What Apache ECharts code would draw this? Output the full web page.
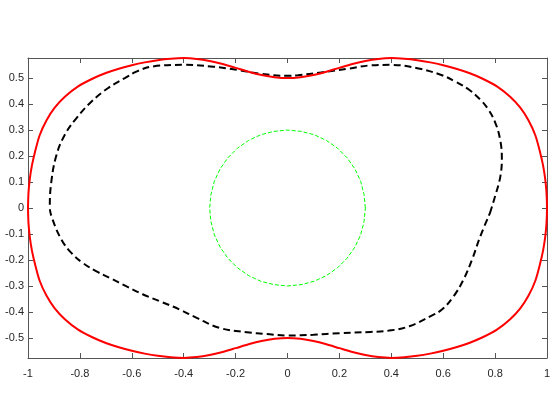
<!DOCTYPE html>
<html>
<head>
<meta charset="utf-8">
<script src="https://cdn.jsdelivr.net/npm/echarts@6/dist/echarts.min.js"></script>
<style>
  html, body { margin: 0; padding: 0; background: #fff; }
  #chart { width: 556px; height: 417px; }
</style>
</head>
<body>
<div id="chart"></div>
<script>
// tick labels
const xTicks = [-1, -0.8, -0.6, -0.4, -0.2, 0, 0.2, 0.4, 0.6, 0.8, 1]
const yTicks = [-0.5, -0.4, -0.3, -0.2, -0.1, 0, 0.1, 0.2, 0.3, 0.4, 0.5]
const yLimit = 0.5774

// red solid outer curve: upper edge left to right, then lower edge back
const redX = [-1, -0.998, -0.993, -0.985, -0.974, -0.955, -0.929, -0.897, -0.858, -0.807, -0.75, -0.7, -0.65,
  -0.6, -0.55, -0.5, -0.45, -0.4, -0.35, -0.3, -0.25, -0.2, -0.15, -0.1, -0.05, 0,
  0.05, 0.1, 0.15, 0.2, 0.25, 0.3, 0.35, 0.4, 0.45, 0.5, 0.55, 0.6,
  0.65, 0.7, 0.75, 0.807, 0.858, 0.897, 0.929, 0.955, 0.974, 0.985, 0.993, 0.998, 1,
  0.998, 0.993, 0.985, 0.974, 0.955, 0.929, 0.897, 0.858, 0.807, 0.75, 0.7, 0.65,
  0.6, 0.55, 0.5, 0.45, 0.4, 0.35, 0.3, 0.25, 0.2, 0.15, 0.1, 0.05, 0,
  -0.05, -0.1, -0.15, -0.2, -0.25, -0.3, -0.35, -0.4, -0.45, -0.5, -0.55, -0.6,
  -0.65, -0.7, -0.75, -0.807, -0.858, -0.897, -0.929, -0.955, -0.974, -0.985, -0.993, -0.998, -1]
const redY = [0, 0.06, 0.112, 0.163, 0.212, 0.28, 0.337, 0.386, 0.428, 0.468, 0.4985, 0.5195, 0.536,
  0.5495, 0.5605, 0.569, 0.5745, 0.577, 0.574, 0.566, 0.554, 0.5395, 0.5245, 0.512, 0.5035, 0.5,
  0.5035, 0.512, 0.5245, 0.5395, 0.554, 0.566, 0.574, 0.577, 0.5745, 0.569, 0.5605, 0.5495,
  0.536, 0.5195, 0.4985, 0.468, 0.428, 0.386, 0.337, 0.28, 0.212, 0.163, 0.112, 0.06, 0,
  -0.06, -0.112, -0.163, -0.212, -0.28, -0.337, -0.386, -0.428, -0.468, -0.4985, -0.5195, -0.536,
  -0.5495, -0.5605, -0.569, -0.5745, -0.577, -0.574, -0.566, -0.554, -0.5395, -0.5245, -0.512, -0.5035, -0.5,
  -0.5035, -0.512, -0.5245, -0.5395, -0.554, -0.566, -0.574, -0.577, -0.5745, -0.569, -0.5605, -0.5495,
  -0.536, -0.5195, -0.4985, -0.468, -0.428, -0.386, -0.337, -0.28, -0.212, -0.163, -0.112, -0.06, 0]

// black dashed curve
const blackX = [0.78, 0.8, 0.82, 0.826, 0.82, 0.8, 0.77, 0.743, 0.7, 0.65, 0.59, 0.5, 0.4, 0.32, 0.24,
  0.13, 0.04, 0, -0.106, -0.196, -0.286, -0.4, -0.518, -0.58, -0.627, -0.691, -0.755, -0.813, -0.858, -0.89,
  -0.91, -0.916, -0.905, -0.871, -0.833, -0.788, -0.736, -0.685, -0.62, -0.556, -0.492, -0.415, -0.35,
  -0.26, -0.157, -0.08, 0, 0.1, 0.2, 0.32, 0.4, 0.47, 0.55, 0.595, 0.64, 0.678, 0.711, 0.743, 0.78]
const blackY = [-0.02, 0.045, 0.12, 0.19, 0.26, 0.33, 0.385, 0.417, 0.455, 0.485, 0.513, 0.538, 0.551, 0.549, 0.537,
  0.522, 0.511, 0.509, 0.517, 0.532, 0.544, 0.551, 0.545, 0.526, 0.5, 0.462, 0.41, 0.346, 0.282, 0.205,
  0.102, 0.005, -0.045, -0.122, -0.173, -0.212, -0.244, -0.269, -0.302, -0.333, -0.359, -0.391, -0.423,
  -0.462, -0.478, -0.485, -0.491, -0.488, -0.482, -0.477, -0.471, -0.455, -0.417, -0.391, -0.34, -0.276, -0.199, -0.109, -0.02]

// green dashed circle, radius 0.3
const greenX = [0.3, 0.295, 0.282, 0.26, 0.23, 0.193, 0.15, 0.103, 0.052, 0, -0.052, -0.103, -0.15, -0.193,
  -0.23, -0.26, -0.282, -0.295, -0.3, -0.295, -0.282, -0.26, -0.23, -0.193, -0.15, -0.103, -0.052, 0,
  0.052, 0.103, 0.15, 0.193, 0.23, 0.26, 0.282, 0.295, 0.3]
const greenY = [0, 0.052, 0.103, 0.15, 0.193, 0.23, 0.26, 0.282, 0.295, 0.3, 0.295, 0.282, 0.26, 0.23,
  0.193, 0.15, 0.103, 0.052, 0, -0.052, -0.103, -0.15, -0.193, -0.23, -0.26, -0.282, -0.295, -0.3,
  -0.295, -0.282, -0.26, -0.23, -0.193, -0.15, -0.103, -0.052, 0]

const zip = (xs, ys) => xs.map((x, i) => [x, ys[i]])

const axisColor = '#555'
const textStyle = { color: '#262626', fontSize: 11, fontFamily: 'Liberation Sans, Arial, sans-serif' }

function xAxisOf(position, showLabel) {
  return {
    type: 'value',
    position: position,
    min: -1,
    max: 1,
    axisLine: { show: true, onZero: false, lineStyle: { color: axisColor, width: 1 } },
    axisTick: { show: true, inside: true, length: 5, customValues: xTicks, lineStyle: { color: axisColor } },
    axisLabel: { show: showLabel, customValues: xTicks, margin: 10, ...textStyle },
    splitLine: { show: false },
  }
}

function yAxisOf(position, showLabel) {
  return {
    type: 'value',
    position: position,
    min: -yLimit,
    max: yLimit,
    axisLine: { show: true, onZero: false, lineStyle: { color: axisColor, width: 1 } },
    axisTick: { show: true, inside: true, length: 5, customValues: yTicks, lineStyle: { color: axisColor } },
    axisLabel: { show: showLabel, customValues: yTicks, margin: 4, ...textStyle },
    splitLine: { show: false },
  }
}

const chart = echarts.init(document.getElementById('chart'))
chart.setOption({
  animation: false,
  backgroundColor: '#fff',
  grid: { left: 28, right: 9, top: 58, bottom: 59 },
  xAxis: [xAxisOf('bottom', true), xAxisOf('top', false)],
  yAxis: [yAxisOf('left', true), yAxisOf('right', false)],
  series: [
    {
      type: 'line',
      data: zip(greenX, greenY),
      showSymbol: false,
      lineStyle: { color: '#00ff00', width: 1, type: [4, 2] },
    },
    {
      type: 'line',
      data: zip(blackX, blackY),
      smooth: 0.4,
      showSymbol: false,
      lineStyle: { color: '#000', width: 2, type: [7, 4] },
    },
    {
      type: 'line',
      data: zip(redX, redY),
      smooth: 0.3,
      showSymbol: false,
      lineStyle: { color: '#ff0000', width: 2 },
    },
  ],
})
</script>
</body>
</html>
